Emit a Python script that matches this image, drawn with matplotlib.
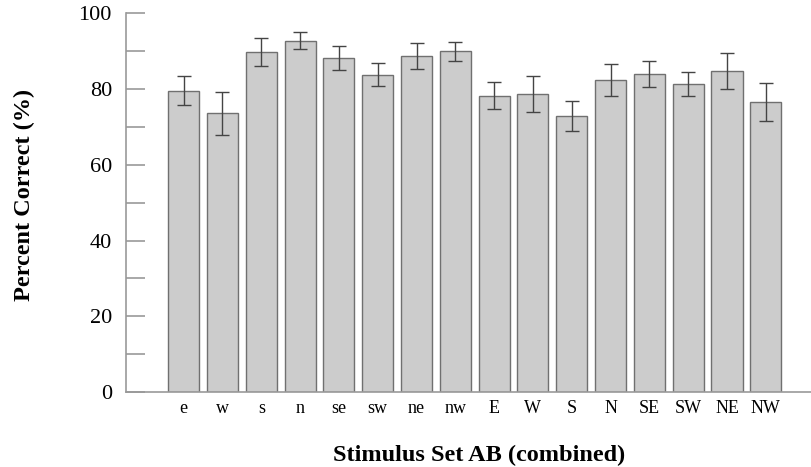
import numpy as np
import matplotlib
matplotlib.use("Agg")
import matplotlib.pyplot as plt

plt.rcParams['font.family'] = ['Liberation Serif', 'DejaVu Serif']

labels = ['e', 'w', 's', 'n', 'se', 'sw', 'ne', 'nw',
          'E', 'W', 'S', 'N', 'SE', 'SW', 'NE', 'NW']
pct = [79.6, 73.6, 89.8, 92.8, 88.2, 83.8, 88.7, 90.0,
       78.2, 78.6, 72.9, 82.4, 83.9, 81.3, 84.7, 76.6]
err = [3.8, 5.7, 3.7, 2.3, 3.2, 3.1, 3.4, 2.5,
       3.6, 4.8, 4.0, 4.3, 3.5, 3.2, 4.8, 5.1]

fig = plt.figure(figsize=(8.12, 4.67), dpi=100)
ax = fig.add_axes([0.155, 0.1606, 0.845, 0.811])

x = np.arange(len(labels))
ax.bar(x, pct, width=0.8, color='#cccccc', edgecolor='#707070', linewidth=1.0,
       yerr=err, error_kw=dict(ecolor='#444444', elinewidth=1.0, capsize=5, capthick=1.0))

ax.set_xlim(-1.49, 16.19)
ax.set_ylim(0, 100)
ax.set_yticks([0, 20, 40, 60, 80, 100])
ax.set_yticks([10, 30, 50, 70, 90], minor=True)
ax.set_xticks(x)
ax.set_xticklabels(labels, fontsize=13)

for s in ['top', 'right']:
    ax.spines[s].set_visible(False)
for s in ['left', 'bottom']:
    ax.spines[s].set_color('#999999')
    ax.spines[s].set_linewidth(1.2)

ax.tick_params(axis='y', which='both', direction='in', length=14, width=1.2,
               color='#999999', labelsize=16, pad=10)
ax.tick_params(axis='x', length=0, pad=6)

ax.set_ylabel('Percent Correct (%)', fontsize=17.5, fontweight='bold')
ax.yaxis.set_label_coords(-0.133, 0.52)
ax.set_xlabel('Stimulus Set AB (combined)', fontsize=17.5, fontweight='bold')
ax.xaxis.set_label_coords(0.515, -0.14)

fig.savefig('out.png', dpi=100)
